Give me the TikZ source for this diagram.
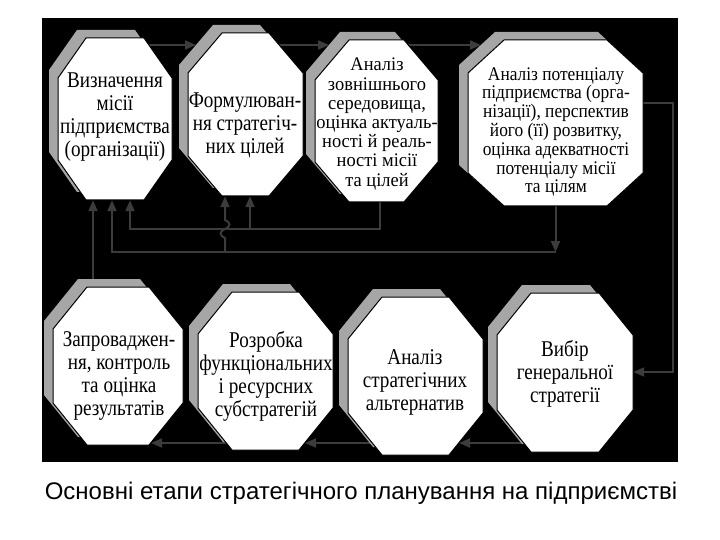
\documentclass[tikz,border=0pt]{standalone}
\usepackage{fontspec}
\setmainfont{Liberation Serif}
\newfontfamily\boxfont[FakeStretch=0.85]{Liberation Serif}
\newfontfamily\boxfontb[FakeStretch=0.96]{Liberation Serif}
\newfontfamily\boxfontc[FakeStretch=0.9]{Liberation Serif}
\newfontfamily\capfont{Liberation Sans}
\usetikzlibrary{arrows.meta,calc}
\definecolor{conncol}{RGB}{60,60,60}
\definecolor{shadowgray}{RGB}{166,166,166}
\tikzset{
  conn/.style={draw=conncol, line width=2pt},
  arr/.style={conn, -{Triangle[length=11pt,width=9pt]}},
  anchorbox/.style={draw=none, inner sep=0pt, rectangle},
  txt/.style={align=center, inner sep=0pt, font=\boxfont\fontsize{22.5}{23}\selectfont},
  txtthree/.style={align=center, inner sep=0pt, font=\boxfontb\fontsize{19.2}{19.2}\selectfont},
  txtfour/.style={align=center, inner sep=0pt, font=\boxfontc\fontsize{19.3}{18.8}\selectfont}
}
% name, x1, y1, x2, y2, cutx, cuty
\newcommand\octbox[7]{%
  \begin{scope}[shift={(-9,-8)}]
    \fill[shadowgray] (#2+#6,#3) -- (#4-#6,#3) -- (#4,#3+#7) -- (#4,#5-#7) -- (#4-#6,#5) -- (#2+#6,#5) -- (#2,#5-#7) -- (#2,#3+#7) -- cycle;
  \end{scope}
  \filldraw[fill=white, draw=black, line width=1pt] (#2+#6,#3) -- (#4-#6,#3) -- (#4,#3+#7) -- (#4,#5-#7) -- (#4-#6,#5) -- (#2+#6,#5) -- (#2,#5-#7) -- (#2,#3+#7) -- cycle;
  \node[anchorbox, minimum width={#4-#2}, minimum height={#5-#3}] (#1) at ({(#2+#4)/2},{(#3+#5)/2}) {};
}
\begin{document}
\begin{tikzpicture}[x=1pt,y=-1pt]
\fill[white] (0,0) rectangle (720,540);
\useasboundingbox (0,0) rectangle (720,540);
\fill[black] (42,18) rectangle (678,462);

% anchor boxes first (invisible) so connectors can refer to them
\node[anchorbox, minimum width=114, minimum height=162] (o1) at (115,119) {};
\node[anchorbox, minimum width=115, minimum height=163] (o2) at (245.5,114.5) {};
\node[anchorbox, minimum width=123, minimum height=162] (o3) at (376.5,121) {};
\node[anchorbox, minimum width=175, minimum height=166] (o4) at (555.5,123) {};
\node[anchorbox, minimum width=130, minimum height=158] (o5) at (118,366) {};
\node[anchorbox, minimum width=135, minimum height=158] (o6) at (265.5,371) {};
\node[anchorbox, minimum width=135, minimum height=158] (o7) at (415.5,376) {};
\node[anchorbox, minimum width=136, minimum height=159] (o8) at (565,372.5) {};

% tips of arrows on the shadows / outlines
\coordinate (tip2) at (196,45);
\coordinate (tip3) at (329,45);
\coordinate (tip4) at (481,45);
\coordinate (tip7) at (459,443);
\coordinate (tip6) at (305,443);
\coordinate (tip5) at (151,443);
\coordinate (jB) at (o4.south |- 0,252);
\coordinate (jD) at (o3.south -| 380,0);

% connectors (behind the octagons)
\draw[arr] (o1.north |- 0,45) -- (tip2);
\draw[arr] (o2.north |- 0,45) -- (tip3);
\draw[arr] (o3.north |- 0,45) -- (tip4);

\draw[arr] (o4.east |- 0,103) -- (673,103) -- (673,372) -- (o8.east |- 0,372);

\draw[arr] (o8.center |- 0,443) -- (tip7);
\draw[arr] (o7.center |- 0,443) -- (tip6);
\draw[arr] (o6.center |- 0,443) -- (tip5);

\draw[arr] (o5.north -| 93,0) -- (o1.south -| 93,0);
\draw[arr] (o4.south) -- (jB);
\draw[arr] (jB) -- (112,252) -- (o1.south -| 112,0);
\draw[arr] (225,252) -- (225,238) .. controls (219,235) and (219,232) .. (225,229)
  .. controls (231,226) and (231,223) .. (225,220) -- (o2.south -| 225,0);
\draw[arr] (jD) -- (380,229) -- (130,229) -- (o1.south -| 130,0);
\draw[arr] (250,229) -- (o2.south -| 250,0);

% octagons
\octbox{p1}{58}{38}{172}{200}{28}{40}
\octbox{p2}{188}{33}{303}{196}{34}{40}
\octbox{p3}{315}{40}{438}{202}{34}{40}
\octbox{p4}{468}{40}{643}{206}{36}{33}
\octbox{p5}{53}{287}{183}{445}{34}{42}
\octbox{p6}{198}{292}{333}{450}{34}{42}
\octbox{p7}{348}{297}{483}{455}{34}{42}
\octbox{p8}{497}{293}{633}{452}{34}{42}

% texts
\node[txt] (t1) at (115,117) {Визначення\\місії\\підприємства\\(організації)};
\node[txt] (t2) at (245,125) {Формулюван-\\ня стратегіч-\\них цілей};
\node[txtthree] (t3) at (377,124) {Аналіз\\зовнішнього\\середовища,\\оцінка актуаль-\\ності й реаль-\\ності місії\\та цілей};
\node[txtfour] (t4) at (556,132) {Аналіз потенціалу\\підприємства (орга-\\нізації), перспектив\\його (її) розвитку,\\оцінка адекватності\\потенціалу місії\\та цілям};
\node[txt] (t5) at (119,376) {Запроваджен-\\ня, контроль\\та оцінка\\результатів};
\node[txt] (t6) at (266,376) {Розробка\\функціональних\\і ресурсних\\субстратегій};
\node[txt] (t7) at (415,382) {Аналіз\\стратегічних\\альтернатив};
\node[txt] (t8) at (565,374) {Вибір\\генеральної\\стратегії};

\node[font=\capfont\fontsize{24}{28}\selectfont, inner sep=0pt] (cap) at (361,493) {Основні етапи стратегічного планування на підприємстві};
\end{tikzpicture}
\end{document}
